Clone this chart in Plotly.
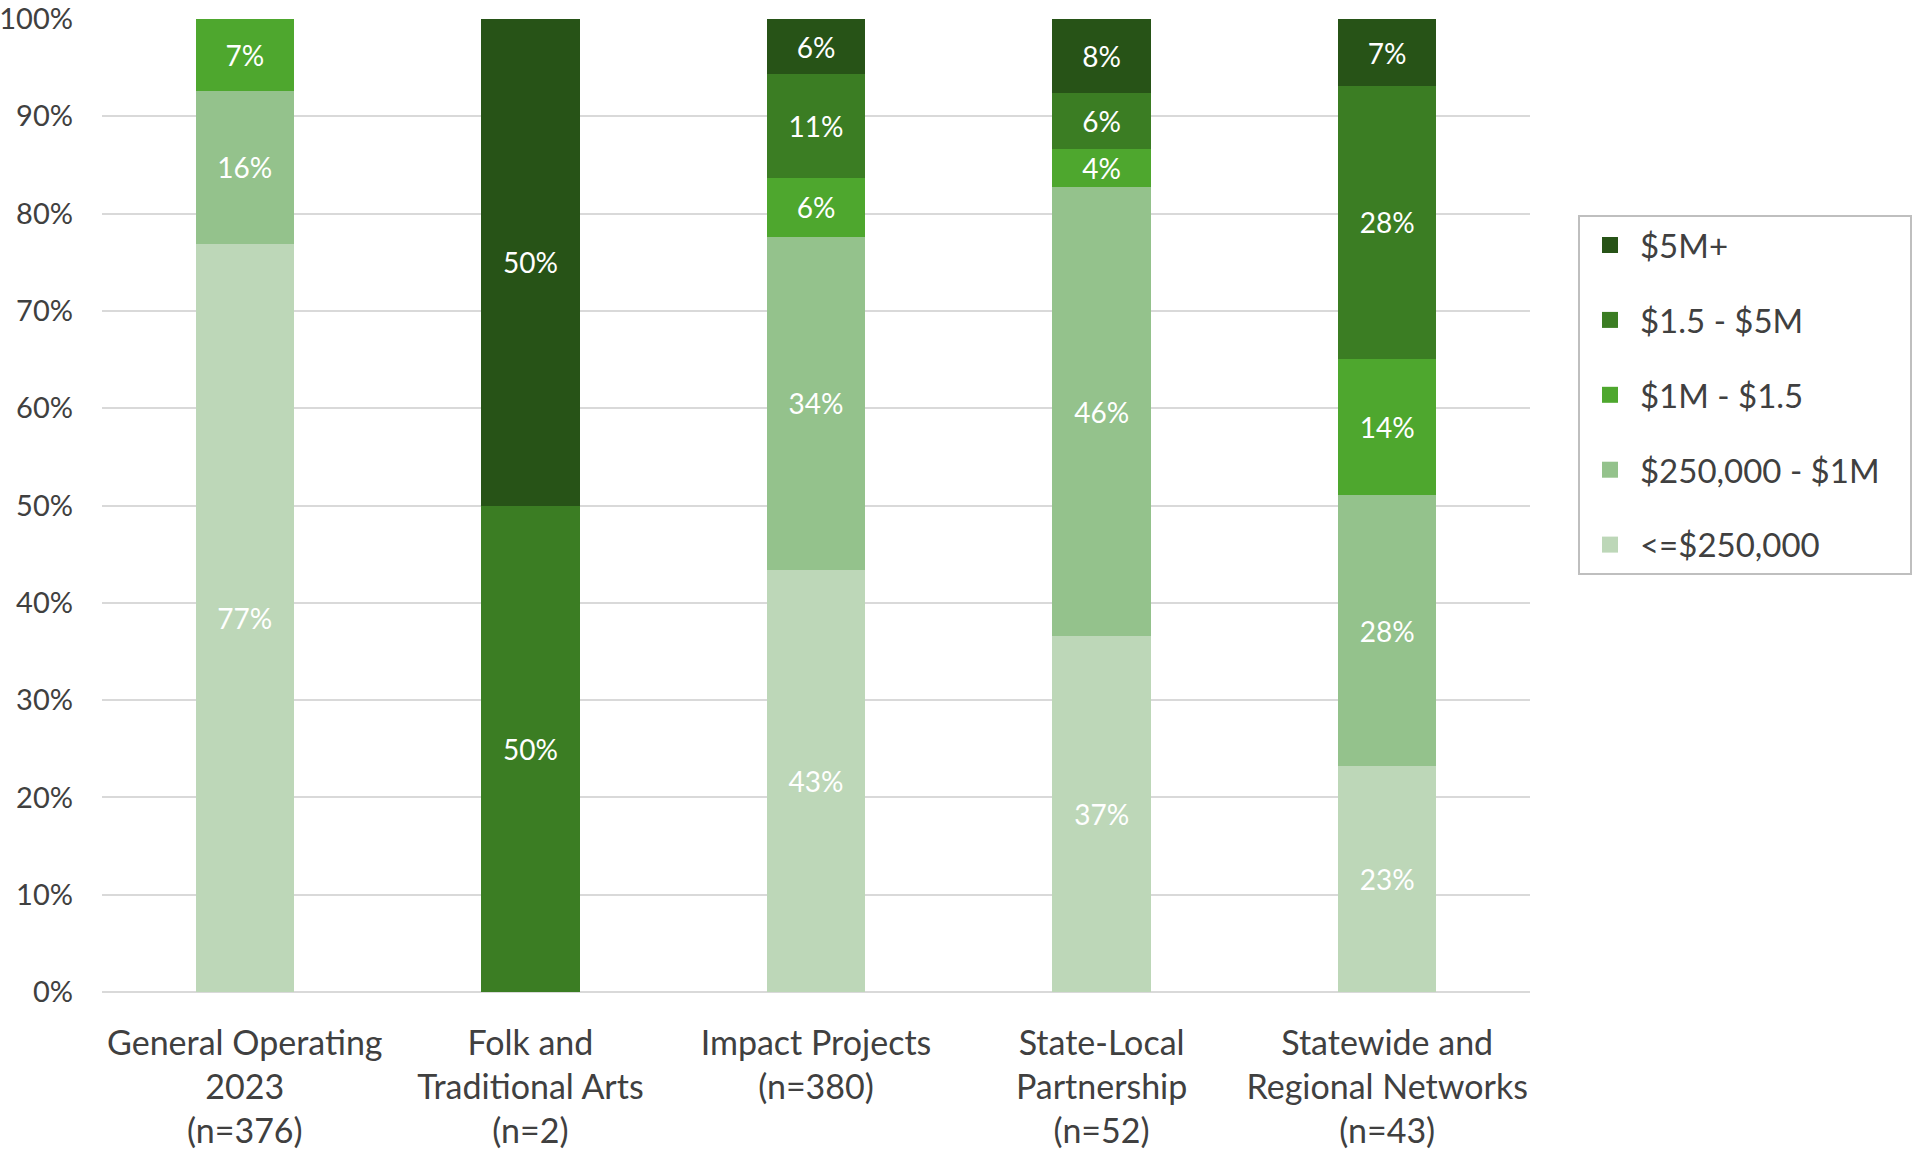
import plotly.graph_objects as go

categories = [
    "General Operating<br>2023<br>(n=376)",
    "Folk and<br>Traditional Arts<br>(n=2)",
    "Impact Projects<br>(n=380)",
    "State-Local<br>Partnership<br>(n=52)",
    "Statewide and<br>Regional Networks<br>(n=43)",
]

series_names = ["<=$250,000", "$250,000 - $1M", "$1M - $1.5", "$1.5 - $5M", "$5M+"]

under_250k = [76.9, None, 43.4, 36.6, 23.2]
k250_1m = [15.7, None, 34.2, 46.1, 27.9]
m1_15 = [7.4, None, 6.1, 3.9, 14.0]
m15_5 = [None, 50.0, 10.6, 5.8, 28.0]
m5_plus = [None, 50.0, 5.7, 7.6, 6.9]

series_values = [under_250k, k250_1m, m1_15, m15_5, m5_plus]
colors = ["#BDD7B8", "#94C28C", "#4EA72E", "#3B7D23", "#275317"]

FONT = "Lato, 'Open Sans', sans-serif"

fig = go.Figure()
for name, vals, col in zip(series_names, series_values, colors):
    fig.add_trace(go.Bar(
        x=categories, y=vals, name=name,
        marker=dict(color=col, line=dict(width=0)),
        text=vals, texttemplate="%{y:.0f}%",
        textposition="inside", insidetextanchor="middle", textangle=0,
        insidetextfont=dict(color="white", size=28, family=FONT),
        constraintext="none",
        showlegend=False, hoverinfo="skip",
    ))

# legend proxies (larger square swatches), top entry = highest band;
# a little trailing padding widens the legend box like the original
longest = max(series_names, key=len)
for name, col in reversed(list(zip(series_names, colors))):
    label = name + ("\u00a0" * 3 if name == longest else "")
    fig.add_trace(go.Scatter(
        x=[None], y=[None], mode="markers", name=label, legendgroup=name,
        marker=dict(symbol="square", size=16, color=col),
        showlegend=True,
    ))

fig.update_layout(
    width=1921, height=1157,
    barmode="stack", bargap=0.655,
    plot_bgcolor="white", paper_bgcolor="white",
    margin=dict(l=102, r=391, t=19, b=165, autoexpand=False),
    font=dict(family=FONT, color="#404040", size=29),
    uniformtext=dict(minsize=28, mode="show"),
    hovermode=False,
    legend=dict(
        x=1.0336, y=0.7985, xanchor="left", yanchor="top",
        traceorder="grouped", tracegroupgap=29,
        bordercolor="#BFBFBF", borderwidth=2, bgcolor="white",
        font=dict(size=33, color="#404040", family=FONT),
        itemsizing="trace", itemwidth=50,
    ),
    xaxis=dict(
        showgrid=False, showline=False, zeroline=False, automargin=False,
        tickfont=dict(size=34, color="#404040"),
        ticklabelstandoff=28,
    ),
    yaxis=dict(
        range=[0, 100], dtick=10, ticksuffix="%", automargin=False,
        showgrid=True, gridcolor="#D9D9D9", gridwidth=2,
        zeroline=True, zerolinecolor="#D9D9D9", zerolinewidth=2,
        showline=False, ticklabeloverflow="allow",
        tickfont=dict(size=29, color="#404040"),
        ticklabelstandoff=28,
    ),
)

fig.write_html(
    "out.html",
    config={"displayModeBar": False, "staticPlot": True},
    post_script="document.body.style.margin='0';document.body.style.overflow='hidden';",
)
